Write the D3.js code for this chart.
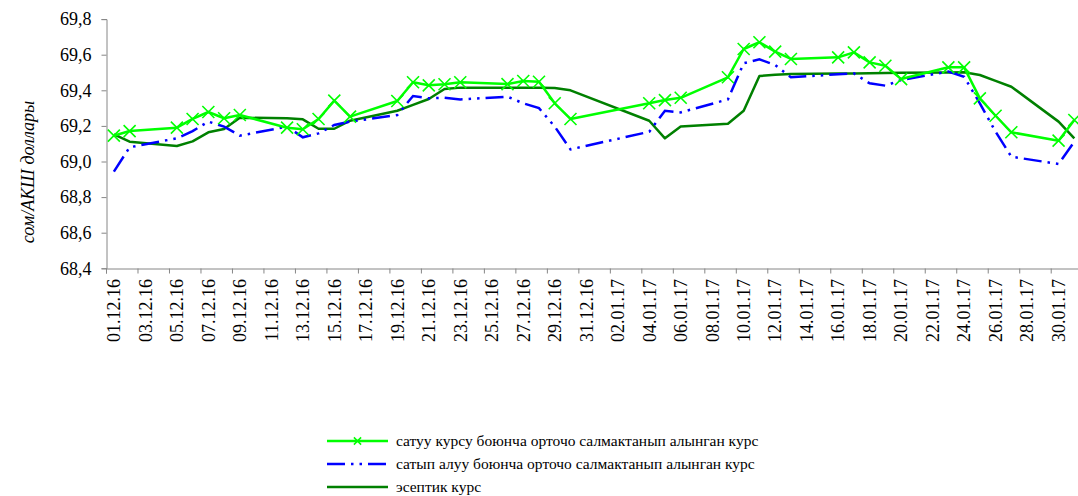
<!DOCTYPE html>
<html>
<head>
<meta charset="utf-8">
<script src="https://cdn.jsdelivr.net/npm/d3@7"></script>
<style>
  body { margin: 0; background: #fff; }
  svg { display: block; }
  .axis path, .axis line { stroke: #868686; }
</style>
</head>
<body>
<div id="chart"></div>
<script>
// business days shown in the chart
var dates = ["01.12.16","02.12.16","05.12.16","06.12.16","07.12.16","08.12.16","09.12.16",
  "12.12.16","13.12.16","14.12.16","15.12.16","16.12.16","19.12.16","20.12.16","21.12.16",
  "22.12.16","23.12.16","26.12.16","27.12.16","28.12.16","29.12.16","30.12.16",
  "04.01.17","05.01.17","06.01.17","09.01.17","10.01.17","11.01.17","12.01.17","13.01.17",
  "16.01.17","17.01.17","18.01.17","19.01.17","20.01.17","23.01.17","24.01.17","25.01.17",
  "26.01.17","27.01.17","30.01.17","31.01.17"];

// сатуу курсу (sell rate)
var sellRate = [69.145, 69.171, 69.19, 69.239, 69.278, 69.243, 69.261,
  69.19, 69.181, 69.239, 69.342, 69.252, 69.34, 69.445, 69.428,
  69.434, 69.445, 69.435, 69.452, 69.448, 69.327, 69.239,
  69.327, 69.345, 69.358, 69.473, 69.632, 69.67, 69.617, 69.576,
  69.585, 69.613, 69.557, 69.538, 69.463, 69.529, 69.529, 69.355,
  69.257, 69.164, 69.117, 69.233];

// сатып алуу курсу (buy rate)
var buyRate = [68.943, 69.08, 69.13, 69.171, 69.224, 69.196, 69.145,
  69.196, 69.136, 69.158, 69.205, 69.224, 69.261, 69.368, 69.355,
  69.358, 69.349, 69.364, 69.327, 69.30, 69.196, 69.068,
  69.167, 69.285, 69.276, 69.349, 69.552, 69.574, 69.542, 69.473,
  69.49, 69.495, 69.439, 69.426, 69.458, 69.505, 69.476, 69.327,
  69.167, 69.027, 68.986, 69.111];

// эсептик курс (official rate)
var officialRate = [69.153, 69.111, 69.087, 69.113, 69.164, 69.183, 69.246,
  69.243, 69.237, 69.184, 69.184, 69.229, 69.285, 69.318, 69.351,
  69.407, 69.415, 69.415, 69.415, 69.415, 69.413, 69.40,
  69.229, 69.13, 69.196, 69.212, 69.285, 69.48, 69.488, 69.492,
  69.495, 69.495, 69.496, 69.497, 69.498, 69.50, 69.501, 69.486,
  69.453, 69.42, 69.224, 69.13];

var yTicks = [68.4, 68.6, 68.8, 69.0, 69.2, 69.4, 69.6, 69.8];

var legendLabels = [
  "сатуу курсу боюнча орточо салмактанып алынган курс",
  "сатып алуу боюнча орточо салмактанып алынган курс",
  "эсептик курс"
];
var yTitle = "сом/АКШ доллары";

var W = 1078, H = 496;
var parse = d3.utcParse("%d.%m.%y");
var fmtDate = d3.utcFormat("%d.%m.%y");
var DAY = 864e5;
var FONT = "'Liberation Serif'";

var start = Date.UTC(2016, 11, 1), end = Date.UTC(2017, 1, 1);

// Set the ranges
var x = d3.scaleUtc().domain([start, end]).range([106, 1082.2]);
var y = d3.scaleLinear().domain([68.4, 69.8]).range([268.3, 19.1]);

// point sits in the middle of its day
function px(d) { return x(+parse(d) + DAY / 2); }

function serif(sel, size) {
  sel.style("font-family", FONT).style("font-size", size + "px").style("fill", "#000");
}

var svg = d3.select("#chart").append("svg")
  .attr("width", W).attr("height", H);

// Y axis
var yAxis = d3.axisLeft(y).tickValues(yTicks).tickSize(5).tickPadding(10)
  .tickFormat(function(d) { return d3.format(".1f")(d).replace(".", ","); });
svg.append("g").attr("class", "axis")
  .attr("transform", "translate(106.5,0)")
  .call(yAxis)
  .selectAll("text").call(serif, 18);

// X axis: tick marks every 2 days on day boundaries
var tickDates = d3.range(0, 32).map(function(i) { return start + i * 2 * DAY; });
var xAxis = d3.axisBottom(x).tickValues(tickDates).tickSize(5).tickFormat("");
svg.append("g").attr("class", "axis")
  .attr("transform", "translate(0,268.5)")
  .call(xAxis);

// labels centred in the day
var labelDates = d3.range(0, 31).map(function(i) { return start + i * 2 * DAY + DAY / 2; });
svg.append("g")
  .selectAll("text")
  .data(labelDates)
  .join("text")
    .attr("transform", function(d) { return "translate(" + x(d) + ",279) rotate(-90)"; })
    .attr("text-anchor", "end")
    .attr("dy", "0.35em")
    .call(serif, 18)
    .text(function(d) { return fmtDate(new Date(d)); });

// Y title
svg.append("text")
  .attr("transform", "translate(28,172) rotate(-90)")
  .attr("text-anchor", "middle")
  .attr("dy", "0.35em")
  .call(serif, 18)
  .style("font-style", "italic")
  .text(yTitle);

function series(vals) {
  return dates.map(function(d, i) { return {d: d, v: vals[i]}; });
}
var line = d3.line()
  .x(function(p) { return px(p.d); })
  .y(function(p) { return y(p.v); });

var xMark = "M-6,-6L6,6M-6,6L6,-6";

// official rate
svg.append("path")
  .attr("d", line(series(officialRate)))
  .attr("fill", "none").attr("stroke", "#008000").attr("stroke-width", 2.5)
  .attr("stroke-linejoin", "round");

// buy rate
svg.append("path")
  .attr("d", line(series(buyRate)))
  .attr("fill", "none").attr("stroke", "#0000ff").attr("stroke-width", 2.5)
  .attr("stroke-dasharray", "18,6,2.5,6,2.5,6");

// sell rate
svg.append("path")
  .attr("d", line(series(sellRate)))
  .attr("fill", "none").attr("stroke", "#00ff00").attr("stroke-width", 2.5)
  .attr("stroke-linejoin", "round");
svg.append("g")
  .selectAll("path")
  .data(series(sellRate))
  .join("path")
    .attr("transform", function(p) { return "translate(" + px(p.d) + "," + y(p.v) + ")"; })
    .attr("d", xMark)
    .attr("fill", "none").attr("stroke", "#00ff00").attr("stroke-width", 1.6);

// Legend
var legendStyles = [
  {color: "#00ff00", dash: null, marker: true},
  {color: "#0000ff", dash: "18,6,2.5,6,2.5,6", marker: false},
  {color: "#008000", dash: null, marker: false}
];
var lg = svg.append("g").attr("transform", "translate(327,441)");
legendLabels.forEach(function(t, i) {
  var row = lg.append("g").attr("transform", "translate(0," + (i * 23) + ")");
  row.append("line")
    .attr("x1", 0).attr("x2", 61).attr("y1", 0).attr("y2", 0)
    .attr("stroke", legendStyles[i].color).attr("stroke-width", 2.5)
    .attr("stroke-dasharray", legendStyles[i].dash);
  if (legendStyles[i].marker) {
    row.append("path").attr("transform", "translate(30.5,0) scale(0.6)")
      .attr("d", xMark).attr("fill", "none")
      .attr("stroke", legendStyles[i].color).attr("stroke-width", 2.5);
  }
  row.append("text")
    .attr("x", 69).attr("dy", "0.35em")
    .call(serif, 15.5)
    .text(t);
});
</script>
</body>
</html>
